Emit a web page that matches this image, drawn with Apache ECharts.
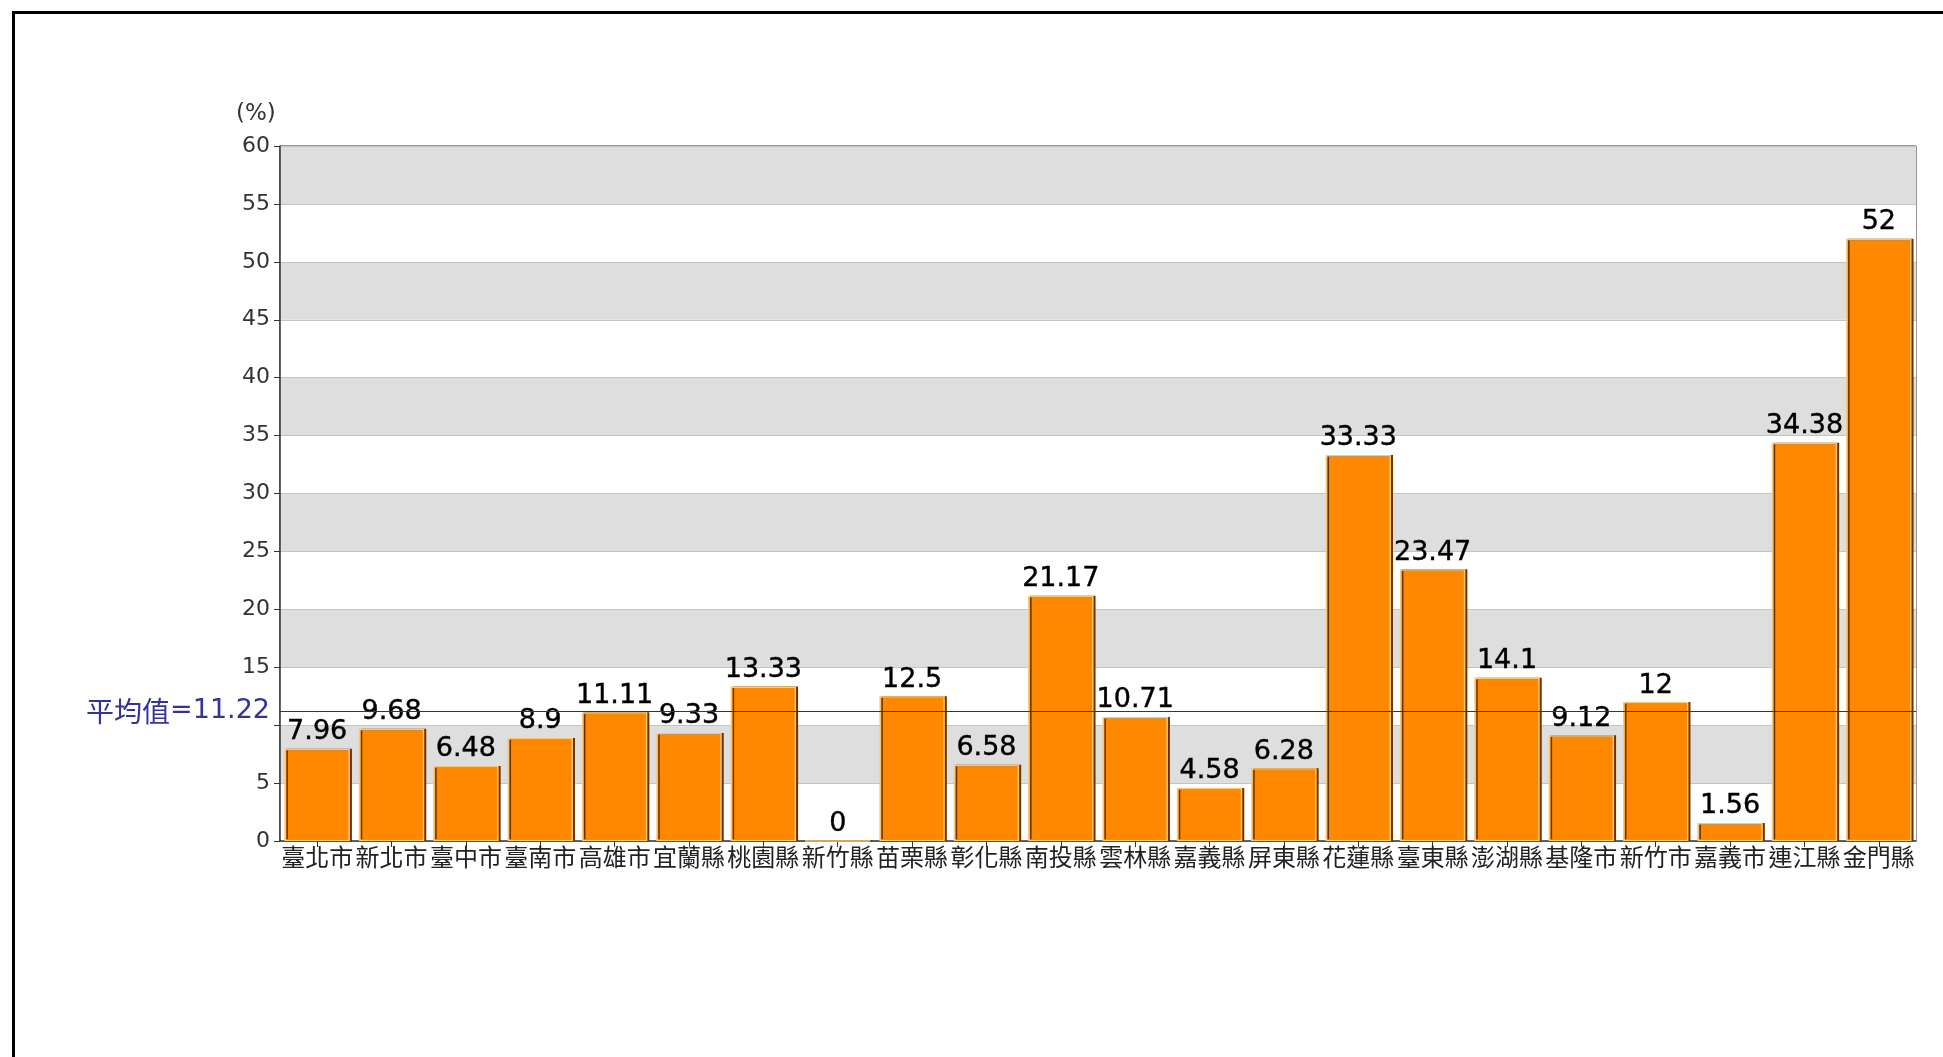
<!DOCTYPE html>
<html>
<head>
<meta charset="utf-8">
<script src="https://cdn.jsdelivr.net/npm/echarts@6/dist/echarts.min.js"></script>
<style>
html,body{margin:0;padding:0;background:#fff;}
#main{width:1943px;height:1057px;}
</style>
</head>
<body>
<div id="main"></div>
<script>
const categories = ['臺北市','新北市','臺中市','臺南市','高雄市','宜蘭縣','桃園縣','新竹縣','苗栗縣','彰化縣','南投縣','雲林縣','嘉義縣','屏東縣','花蓮縣','臺東縣','澎湖縣','基隆市','新竹市','嘉義市','連江縣','金門縣'];
const values = [7.96, 9.68, 6.48, 8.9, 11.11, 9.33, 13.33, 0, 12.5, 6.58, 21.17, 10.71, 4.58, 6.28, 33.33, 23.47, 14.1, 9.12, 12, 1.56, 34.38, 52];
const averageValue = 11.22;
const averageName = '平均值';
const yUnit = '(%)';
const yMin = 0, yMax = 60, yStep = 5;
const hiddenTicks = [10];

const chart = echarts.init(document.getElementById('main'));
const wide = '"DejaVu Sans", Verdana, sans-serif';
const cjk = '"Noto Sans CJK TC", sans-serif';

chart.setOption({
  animation: false,
  backgroundColor: '#fff',
  grid: {left: 280, top: 146, right: 27, bottom: 216, show: true, borderColor: '#333', borderWidth: 1, backgroundColor: 'transparent'},
  graphic: [
    {type: 'rect', left: 11, top: 10, shape: {width: 2000, height: 1100}, style: {fill: 'none', stroke: '#000', lineWidth: 3}, silent: true, z: 100},
    {type: 'text', left: 236, top: 103, style: {text: yUnit, fontSize: 23, fontFamily: wide, fill: '#333'}}
  ],
  xAxis: {
    type: 'category',
    data: categories,
    axisLine: {lineStyle: {color: '#333', width: 1.5}},
    axisTick: {show: true, alignWithLabel: true, length: 6, lineStyle: {color: '#333'}},
    axisLabel: {interval: 0, fontSize: 24, fontFamily: cjk, color: '#222', margin: 4}
  },
  yAxis: {
    type: 'value',
    min: yMin, max: yMax, interval: yStep,
    axisLine: {show: true, lineStyle: {color: '#333', width: 1.5}},
    axisTick: {show: true, length: 6, lineStyle: {color: '#333'}},
    axisLabel: {fontSize: 22, fontFamily: wide, color: '#333', margin: 10,
      formatter: v => hiddenTicks.includes(v) ? '' : String(v)},
    splitLine: {show: true, lineStyle: {color: '#c4c4c4', width: 1}},
    splitArea: {show: true, areaStyle: {color: ['#ffffff', '#dedede']}}
  },
  series: [{
    type: 'bar',
    data: values,
    barCategoryGap: '12%',
    itemStyle: {color: '#ff8800', borderColor: '#ffc870', borderWidth: 1.5,
      shadowColor: '#6b3300', shadowOffsetX: 2, shadowOffsetY: 0, shadowBlur: 0},
    label: {show: true, position: 'top', distance: 3, fontSize: 27, fontFamily: wide, color: '#000',
      textBorderColor: '#000', textBorderWidth: 0.4,
      formatter: p => String(p.value)},
    markLine: {
      silent: true,
      symbol: 'none',
      data: [{yAxis: averageValue}],
      lineStyle: {color: '#2a2a8a', width: 1.2, type: 'solid'},
      label: {show: true, position: 'start', distance: 10,
        formatter: '{a|' + averageName + '}{b|=' + averageValue + '}',
        rich: {
          a: {fontSize: 28, fontFamily: cjk, color: '#333399'},
          b: {fontSize: 27, fontFamily: wide, color: '#333399'}
        }}
    }
  }]
});
</script>
</body>
</html>
